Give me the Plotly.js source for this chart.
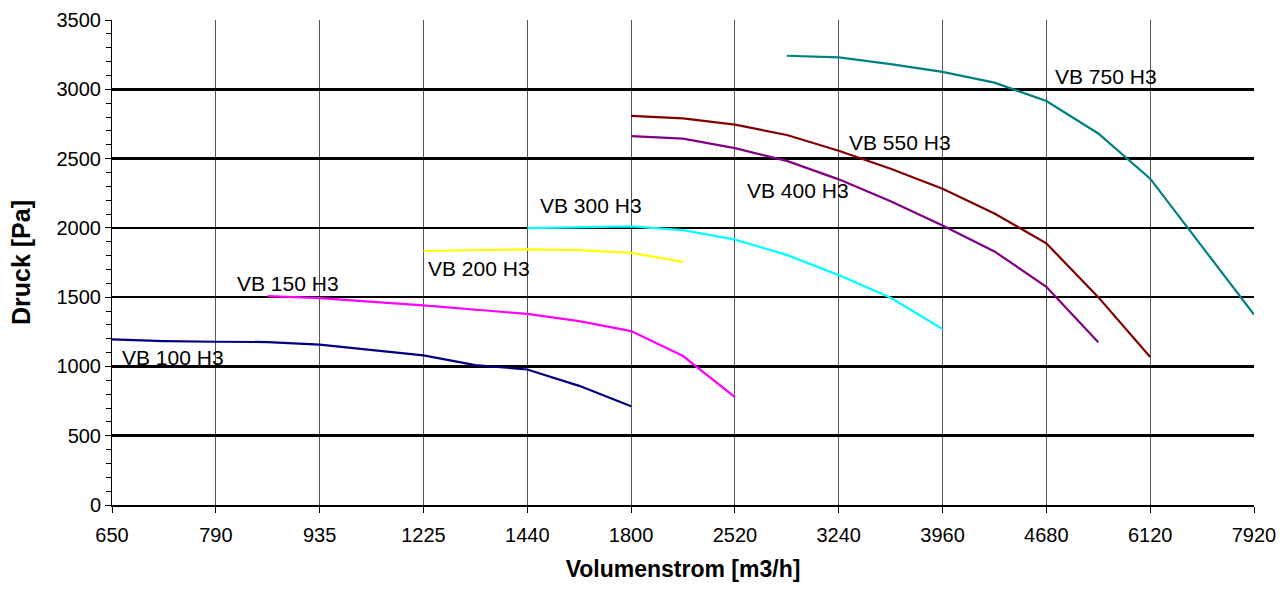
<!DOCTYPE html>
<html>
<head>
<meta charset="utf-8">
<script src="https://cdn.plot.ly/plotly-3.0.1.min.js"></script>
<style>html,body{margin:0;padding:0;background:#fff;}#chart{width:1288px;height:590px;}</style>
</head>
<body>
<div id="chart"></div>
<script>
// X axis categories (Volumenstrom [m3/h]), evenly spaced
const categories = ["650","790","935","1225","1440","1800","2520","3240","3960","4680","6120","7920"];

// Series: position along the category axis (index) and pressure [Pa]
const vb100_x = [0, 0.5, 1, 1.5, 2, 3, 3.5, 4, 4.5, 5];
const vb100_y = [1195, 1183, 1178, 1176, 1157, 1080, 1010, 978, 860, 713];

const vb150_x = [1.5, 2, 3, 4, 4.5, 5, 5.5, 6];
const vb150_y = [1507, 1493, 1440, 1379, 1327, 1255, 1075, 778];

const vb200_x = [3, 3.5, 4, 4.5, 5, 5.5];
const vb200_y = [1833, 1840, 1845, 1840, 1820, 1755];

const vb300_x = [4, 4.5, 5, 5.5, 6, 6.5, 7, 7.5, 8];
const vb300_y = [1998, 2003, 2010, 1983, 1915, 1805, 1659, 1495, 1270];

const vb400_x = [5, 5.5, 6, 6.5, 7, 7.5, 8, 8.5, 9, 9.5];
const vb400_y = [2662, 2644, 2575, 2483, 2350, 2192, 2017, 1830, 1575, 1175];

const vb550_x = [5, 5.5, 6, 6.5, 7, 7.5, 8, 8.5, 9, 9.5, 10];
const vb550_y = [2808, 2790, 2745, 2670, 2556, 2427, 2282, 2104, 1888, 1500, 1068];

const vb750_x = [6.5, 7, 7.5, 8, 8.5, 9, 9.5, 10, 10.5, 11];
const vb750_y = [3242, 3230, 3181, 3126, 3048, 2915, 2681, 2355, 1865, 1374];

const seriesNames = ["VB 100 H3","VB 150 H3","VB 200 H3","VB 300 H3","VB 400 H3","VB 550 H3","VB 750 H3"];
const seriesColors = ["#000080","#FF00FF","#FFFF00","#00FFFF","#800080","#800000","#008080"];
const seriesX = [vb100_x, vb150_x, vb200_x, vb300_x, vb400_x, vb550_x, vb750_x];
const seriesY = [vb100_y, vb150_y, vb200_y, vb300_y, vb400_y, vb550_y, vb750_y];

// Label anchor points (category index, Pa)
const labelX = [0.08, 1.18, 3.02, 4.1, 6.1, 7.08, 9.06];
const labelY = [1065, 1595, 1705, 2160, 2268, 2615, 3092];

const traces = seriesNames.map((n, i) => ({
  type: "scatter", mode: "lines", name: n,
  x: seriesX[i], y: seriesY[i],
  line: {color: seriesColors[i], width: 2.2},
  hoverinfo: "skip"
}));

const annotations = seriesNames.map((n, i) => ({
  x: labelX[i], y: labelY[i], xref: "x", yref: "y",
  text: n, showarrow: false, xanchor: "left", yanchor: "middle",
  font: {family: "Liberation Sans, Arial, sans-serif", size: 21, color: "#000"}
}));

const layout = {
  width: 1288, height: 590,
  margin: {l: 112, r: 34, t: 20, b: 85},
  paper_bgcolor: "#fff", plot_bgcolor: "#fff",
  showlegend: false,
  font: {family: "Liberation Sans, Arial, sans-serif", color: "#000"},
  xaxis: {
    range: [0, 11],
    tickmode: "array",
    tickvals: categories.map((c, i) => i),
    ticktext: categories,
    tickfont: {size: 20},
    ticklabelstandoff: 5,
    ticks: "outside", ticklen: 6, tickcolor: "#000", tickwidth: 1,
    showgrid: true, gridcolor: "#555", gridwidth: 1,
    zeroline: false,
    showline: true, linecolor: "#000", linewidth: 2,
    title: {text: "<b>Volumenstrom [m3/h]</b>", font: {size: 23}, standoff: 16}
  },
  yaxis: {
    range: [0, 3500],
    tickmode: "linear", tick0: 0, dtick: 500,
    tickfont: {size: 20},
    ticks: "outside", ticklen: 6, tickcolor: "#000", tickwidth: 1,
    minor: {dtick: 100, ticks: "outside", ticklen: 5, tickcolor: "#000", showgrid: false},
    showgrid: true, gridcolor: "#000", gridwidth: 2.5,
    zeroline: false,
    showline: true, linecolor: "#000", linewidth: 1,
    title: {text: "<b>Druck [Pa]</b>", font: {size: 25}, standoff: 18}
  },
  annotations: annotations
};

Plotly.newPlot("chart", traces, layout, {displayModeBar: false, staticPlot: true});
</script>
</body>
</html>
